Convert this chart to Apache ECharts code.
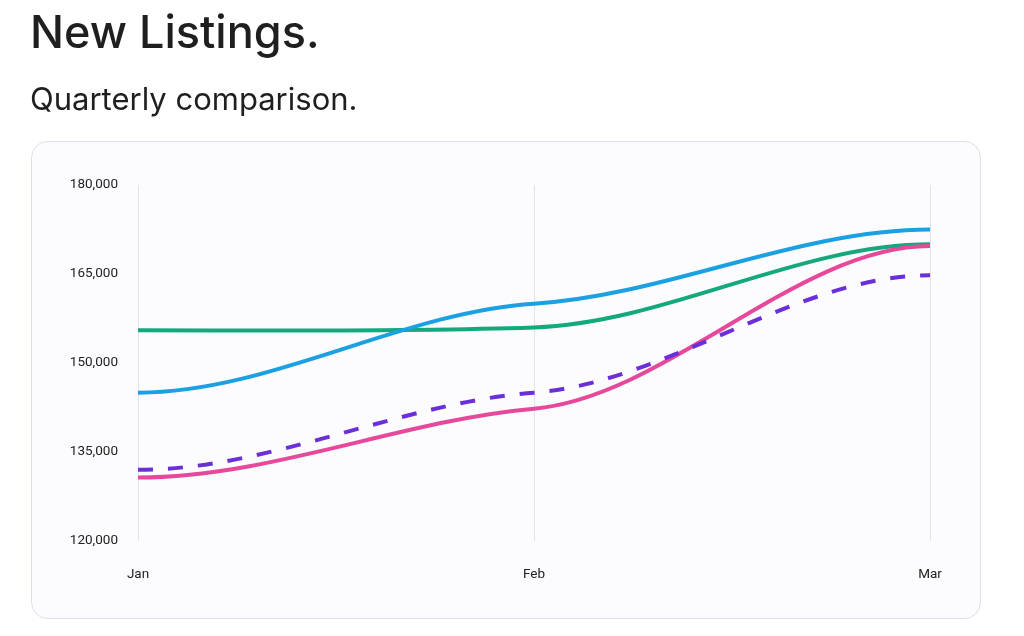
<!DOCTYPE html>
<html>
<head>
<meta charset="utf-8">
<script src="https://cdn.jsdelivr.net/npm/echarts@6/dist/echarts.min.js"></script>
<style>
html,body{margin:0;padding:0;background:#fff;}
#c{width:1024px;height:636px;}
</style>
</head>
<body>
<div id="c"></div>
<script>
const categories = ['Jan', 'Feb', 'Mar'];
const yTicks = [120000, 135000, 150000, 165000, 180000];
const seriesBlue = [145000, 160000, 172500];
const seriesGreen = [155500, 156000, 170000];
const seriesPink = [130700, 142300, 169700];
const seriesPurple = [132000, 145000, 164800];

const chart = echarts.init(document.getElementById('c'));

// Smooth line with flat ends and eased interior tangents, positioned via the axes' scales
const smoothSeries = (name, values, color, dashed, z) => ({
  name, type: 'custom', coordinateSystem: 'cartesian2d', z,
  data: values.map((v, i) => [i, v]),
  encode: { x: 0, y: 1 },
  renderItem: (params, api) => {
    if (params.dataIndex !== 0) return null;
    const pts = values.map((v, i) => api.coord([i, v]));
    const n = pts.length;
    const sec = [];
    for (let i = 0; i < n - 1; i++) sec.push((pts[i + 1][1] - pts[i][1]) / (pts[i + 1][0] - pts[i][0]));
    const m = pts.map((p, i) => (i === 0 || i === n - 1) ? 0 : 0.3 * (sec[i - 1] + sec[i]) / 2);
    let d = 'M' + pts[0][0] + ' ' + pts[0][1];
    for (let i = 1; i < n; i++) {
      const [x0, y0] = pts[i - 1], [x1, y1] = pts[i];
      const h = (x1 - x0) / 3;
      d += ' C' + (x0 + h) + ' ' + (y0 + m[i - 1] * h) + ' ' + (x1 - h) + ' ' + (y1 - m[i] * h) + ' ' + x1 + ' ' + y1;
    }
    return {
      type: 'path',
      shape: { pathData: d },
      style: { fill: null, stroke: color, lineWidth: 4, lineDash: dashed ? [15, 15] : null, lineCap: 'butt' }
    };
  }
});

chart.setOption({
  animation: false,
  backgroundColor: '#ffffff',
  title: [
    { text: 'New Listings.', left: 25, top: 7,
      textStyle: { fontFamily: 'Inter', fontSize: 45, fontWeight: 500, color: '#1f1f1f' } },
    { text: 'Quarterly comparison.', left: 25, top: 80,
      textStyle: { fontFamily: 'Inter', fontSize: 31, fontWeight: 400, color: '#1f1f1f' } }
  ],
  graphic: [{
    type: 'rect', z: -10, silent: true,
    shape: { x: 31.5, y: 141.5, width: 949, height: 477, r: 16 },
    style: { fill: '#fcfcfe', stroke: '#dedfe6', lineWidth: 1 }
  }],
  grid: { left: 138, right: 94, top: 185, bottom: 95 },
  xAxis: {
    type: 'category', data: categories, boundaryGap: false,
    axisLine: { show: false }, axisTick: { show: false },
    axisLabel: { margin: 27, fontFamily: 'Roboto', fontSize: 13.5, color: '#222' },
    splitLine: { show: true, lineStyle: { color: '#e2e3ea', width: 1 } }
  },
  yAxis: {
    type: 'value', min: yTicks[0], max: yTicks[yTicks.length - 1], interval: 15000,
    axisLine: { show: false }, axisTick: { show: false },
    splitLine: { show: false },
    axisLabel: { margin: 20, fontFamily: 'Roboto', fontSize: 13.5, color: '#222',
      formatter: v => v.toLocaleString('en-US') }
  },
  series: [
    smoothSeries('Green', seriesGreen, '#14a97c', false, 2),
    smoothSeries('Blue', seriesBlue, '#1ba1e2', false, 3),
    smoothSeries('Pink', seriesPink, '#e6499b', false, 4),
    smoothSeries('Purple', seriesPurple, '#6a2fd8', true, 5)
  ]
});
</script>
</body>
</html>
